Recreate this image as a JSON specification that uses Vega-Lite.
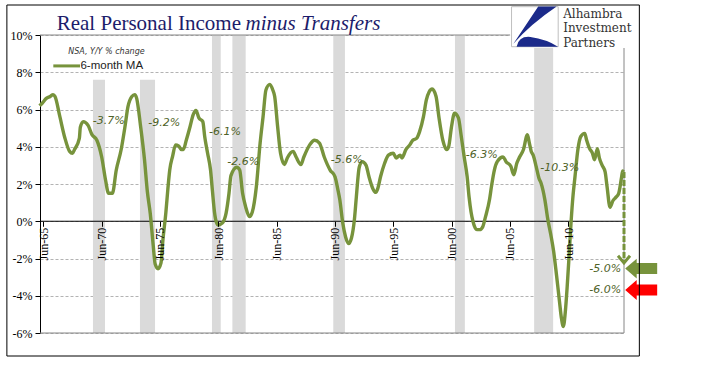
{
  "$schema": "https://vega.github.io/schema/vega-lite/v6.json",
  "width": 584,
  "height": 298,
  "autosize": {"type": "none"},
  "padding": {"left": 40, "top": 35, "right": 81, "bottom": 42},
  "background": "white",
  "config": {
    "view": {"stroke": null},
    "axis": {"labelFont": "Liberation Serif"}
  },
  "encoding": {
    "x": {
      "field": "date", "type": "temporal",
      "scale": {"domain": [{"year": 1965, "month": 2, "date": 15}, {"year": 2015, "month": 3, "date": 15}]},
      "axis": {
        "title": null, "orient": "bottom", "offset": -111.75, "domain": false,
        "values": [
          {"year": 1965, "month": 6, "date": 1}, {"year": 1970, "month": 6, "date": 1},
          {"year": 1975, "month": 6, "date": 1}, {"year": 1980, "month": 6, "date": 1},
          {"year": 1985, "month": 6, "date": 1}, {"year": 1990, "month": 6, "date": 1},
          {"year": 1995, "month": 6, "date": 1}, {"year": 2000, "month": 6, "date": 1},
          {"year": 2005, "month": 6, "date": 1}, {"year": 2010, "month": 6, "date": 1}
        ],
        "format": "%b-%y", "labelAngle": 270, "labelFontSize": 12, "labelColor": "black",
        "tickColor": "black", "tickSize": 5, "labelPadding": 1, "grid": false, "zindex": 1
      }
    },
    "y": {
      "field": "pct", "type": "quantitative",
      "scale": {"domain": [-6, 10]},
      "axis": {
        "title": null, "values": [-6, -4, -2, 0, 2, 4, 6, 8, 10],
        "labelExpr": "datum.value + '%'", "labelFontSize": 12, "labelColor": "black",
        "domainColor": "black", "tickColor": "black", "tickSize": 5, "labelPadding": 3,
        "grid": true, "gridColor": "#B3B3B3", "gridDash": [3, 2], "zindex": 0
      }
    }
  },
  "layer": [
    {
      "data": {"values": [
        {"date": "1969-09-01", "date2": "1970-09-12", "pct": 7.6, "pct2": -6},
        {"date": "1973-09-12", "date2": "1974-12-28", "pct": 7.6, "pct2": -6},
        {"date": "1979-11-15", "date2": "1980-08-15", "pct": 10, "pct2": -6},
        {"date": "1981-08-15", "date2": "1982-10-05", "pct": 10, "pct2": -6},
        {"date": "1990-04-10", "date2": "1991-04-10", "pct": 10, "pct2": -6},
        {"date": "2000-09-15", "date2": "2001-07-22", "pct": 10, "pct2": -6},
        {"date": "2007-07-01", "date2": "2009-02-15", "pct": 10, "pct2": -6}
      ], "format": {"parse": {"date": "date", "date2": "date"}}},
      "mark": {"type": "rect", "color": "#DADADA"},
      "encoding": {"x2": {"field": "date2"}, "y2": {"field": "pct2"}}
    },
    {
      "data": {"values": [
        {"date": "1965-02-15", "date2": "2015-03-15", "pct": 10},
        {"date": "1965-02-15", "date2": "2015-03-15", "pct": -6}
      ], "format": {"parse": {"date": "date", "date2": "date"}}},
      "mark": {"type": "rule", "color": "#868686", "strokeWidth": 1},
      "encoding": {"x2": {"field": "date2"}}
    },
    {
      "data": {"values": [
        {"date": "2015-03-15", "pct": -6, "pct2": 10}
      ], "format": {"parse": {"date": "date"}}},
      "mark": {"type": "rule", "color": "#868686", "strokeWidth": 1},
      "encoding": {"y2": {"field": "pct2"}}
    },
    {
      "data": {"values": [
        {"date": "1965-02-15", "date2": "2015-03-15", "pct": 0}
      ], "format": {"parse": {"date": "date", "date2": "date"}}},
      "mark": {"type": "rule", "color": "black", "strokeWidth": 1.2},
      "encoding": {"x2": {"field": "date2"}}
    },
    {
      "data": {"values": [
        {"date": "1965-02", "pct": 6.2}, {"date": "1965-05", "pct": 6.35}, {"date": "1965-09", "pct": 6.6},
        {"date": "1966-01", "pct": 6.7}, {"date": "1966-04", "pct": 6.8}, {"date": "1966-06", "pct": 6.7},
        {"date": "1966-11", "pct": 5.6}, {"date": "1967-04", "pct": 4.5}, {"date": "1967-09", "pct": 3.75},
        {"date": "1967-12", "pct": 3.65}, {"date": "1968-02", "pct": 3.85}, {"date": "1968-07", "pct": 4.45},
        {"date": "1968-08", "pct": 5.05}, {"date": "1968-11", "pct": 5.35}, {"date": "1969-04", "pct": 5.15},
        {"date": "1969-08", "pct": 4.65}, {"date": "1970-01", "pct": 4.35}, {"date": "1970-06", "pct": 3.45},
        {"date": "1970-10", "pct": 2.2}, {"date": "1971-01", "pct": 1.5}, {"date": "1971-05", "pct": 1.5},
        {"date": "1971-09", "pct": 2.75}, {"date": "1972-02", "pct": 3.85}, {"date": "1972-06", "pct": 5.1},
        {"date": "1972-09", "pct": 6.15}, {"date": "1973-01", "pct": 6.7}, {"date": "1973-04", "pct": 6.8},
        {"date": "1973-06", "pct": 6.6}, {"date": "1973-10", "pct": 5.1}, {"date": "1974-02", "pct": 3.3},
        {"date": "1974-05", "pct": 1.6}, {"date": "1974-08", "pct": 0.4}, {"date": "1974-11", "pct": -1.3},
        {"date": "1975-01", "pct": -2.3}, {"date": "1975-04", "pct": -2.55}, {"date": "1975-07", "pct": -2.25},
        {"date": "1975-09", "pct": -1.0}, {"date": "1975-12", "pct": 0.45}, {"date": "1976-02", "pct": 1.7},
        {"date": "1976-04", "pct": 2.75}, {"date": "1976-07", "pct": 3.5}, {"date": "1976-10", "pct": 4.1},
        {"date": "1977-01", "pct": 4.05}, {"date": "1977-04", "pct": 3.85}, {"date": "1977-06", "pct": 3.85},
        {"date": "1977-09", "pct": 4.35}, {"date": "1978-01", "pct": 5.1}, {"date": "1978-04", "pct": 5.7},
        {"date": "1978-07", "pct": 5.95}, {"date": "1978-10", "pct": 5.55}, {"date": "1979-02", "pct": 5.35},
        {"date": "1979-04", "pct": 4.55}, {"date": "1979-07", "pct": 3.65}, {"date": "1979-10", "pct": 2.75},
        {"date": "1979-12", "pct": 1.6}, {"date": "1980-02", "pct": 0.5}, {"date": "1980-04", "pct": -0.05},
        {"date": "1980-06", "pct": -0.2}, {"date": "1980-10", "pct": -0.1}, {"date": "1981-02", "pct": 0.45},
        {"date": "1981-05", "pct": 1.5}, {"date": "1981-07", "pct": 2.45}, {"date": "1982-01", "pct": 2.9},
        {"date": "1982-04", "pct": 2.75}, {"date": "1982-07", "pct": 1.5}, {"date": "1982-10", "pct": 0.8},
        {"date": "1983-02", "pct": 0.25}, {"date": "1983-05", "pct": 0.5}, {"date": "1983-09", "pct": 1.8},
        {"date": "1984-01", "pct": 4.2}, {"date": "1984-04", "pct": 5.6}, {"date": "1984-07", "pct": 7.05},
        {"date": "1984-11", "pct": 7.35}, {"date": "1985-02", "pct": 7.05}, {"date": "1985-04", "pct": 6.7},
        {"date": "1985-07", "pct": 5.1}, {"date": "1985-10", "pct": 3.65}, {"date": "1986-02", "pct": 3.05},
        {"date": "1986-05", "pct": 3.4}, {"date": "1986-11", "pct": 3.75}, {"date": "1987-02", "pct": 3.45},
        {"date": "1987-07", "pct": 3.05}, {"date": "1987-10", "pct": 3.45}, {"date": "1988-04", "pct": 4.1},
        {"date": "1988-09", "pct": 4.35}, {"date": "1989-02", "pct": 4.2}, {"date": "1989-07", "pct": 3.45},
        {"date": "1990-01", "pct": 2.75}, {"date": "1990-06", "pct": 2.4}, {"date": "1990-09", "pct": 1.7},
        {"date": "1990-11", "pct": 1.15}, {"date": "1991-02", "pct": -0.1}, {"date": "1991-05", "pct": -0.85},
        {"date": "1991-08", "pct": -1.2}, {"date": "1991-11", "pct": -0.9}, {"date": "1992-02", "pct": 0.1},
        {"date": "1992-04", "pct": 1.3}, {"date": "1992-07", "pct": 2.9}, {"date": "1992-10", "pct": 3.2},
        {"date": "1993-02", "pct": 3.0}, {"date": "1993-05", "pct": 2.4}, {"date": "1993-09", "pct": 1.75},
        {"date": "1993-12", "pct": 1.55}, {"date": "1994-02", "pct": 1.75}, {"date": "1994-05", "pct": 2.4},
        {"date": "1994-09", "pct": 3.1}, {"date": "1995-01", "pct": 3.55}, {"date": "1995-06", "pct": 3.65},
        {"date": "1995-09", "pct": 3.4}, {"date": "1996-01", "pct": 3.55}, {"date": "1996-03", "pct": 3.4},
        {"date": "1996-07", "pct": 3.85}, {"date": "1996-11", "pct": 4.1}, {"date": "1997-02", "pct": 4.35},
        {"date": "1997-06", "pct": 4.45}, {"date": "1997-09", "pct": 4.8}, {"date": "1998-01", "pct": 5.6},
        {"date": "1998-04", "pct": 6.5}, {"date": "1998-07", "pct": 6.95}, {"date": "1998-10", "pct": 7.1},
        {"date": "1999-02", "pct": 6.7}, {"date": "1999-05", "pct": 5.6}, {"date": "1999-09", "pct": 4.35},
        {"date": "2000-01", "pct": 3.85}, {"date": "2000-03", "pct": 4.0}, {"date": "2000-06", "pct": 5.1},
        {"date": "2000-09", "pct": 5.8}, {"date": "2001-01", "pct": 5.55}, {"date": "2001-04", "pct": 4.55},
        {"date": "2001-07", "pct": 3.45}, {"date": "2001-10", "pct": 2.4}, {"date": "2001-12", "pct": 1.3},
        {"date": "2002-02", "pct": 0.5}, {"date": "2002-04", "pct": 0.0}, {"date": "2002-08", "pct": -0.45},
        {"date": "2002-11", "pct": -0.45}, {"date": "2003-02", "pct": -0.3}, {"date": "2003-05", "pct": 0.25},
        {"date": "2003-09", "pct": 1.15}, {"date": "2003-11", "pct": 1.85}, {"date": "2004-02", "pct": 2.75},
        {"date": "2004-05", "pct": 3.2}, {"date": "2004-11", "pct": 3.45}, {"date": "2005-02", "pct": 3.2},
        {"date": "2005-07", "pct": 2.95}, {"date": "2005-10", "pct": 2.5}, {"date": "2006-01", "pct": 3.1},
        {"date": "2006-04", "pct": 3.45}, {"date": "2006-08", "pct": 3.85}, {"date": "2006-12", "pct": 4.65},
        {"date": "2007-02", "pct": 4.2}, {"date": "2007-04", "pct": 3.75}, {"date": "2007-06", "pct": 3.55},
        {"date": "2007-09", "pct": 2.95}, {"date": "2007-12", "pct": 2.3}, {"date": "2008-02", "pct": 2.05},
        {"date": "2008-06", "pct": 1.15}, {"date": "2008-09", "pct": 0.1}, {"date": "2008-12", "pct": -0.7},
        {"date": "2009-03", "pct": -1.6}, {"date": "2009-06", "pct": -2.9}, {"date": "2009-09", "pct": -4.3},
        {"date": "2009-11", "pct": -5.2}, {"date": "2010-01", "pct": -5.65}, {"date": "2010-03", "pct": -4.9},
        {"date": "2010-05", "pct": -3.5}, {"date": "2010-07", "pct": -1.8}, {"date": "2010-09", "pct": 0.0},
        {"date": "2010-11", "pct": 1.4}, {"date": "2011-01", "pct": 2.4}, {"date": "2011-04", "pct": 3.85},
        {"date": "2011-07", "pct": 4.55}, {"date": "2011-11", "pct": 4.72}, {"date": "2012-01", "pct": 4.35},
        {"date": "2012-04", "pct": 3.9}, {"date": "2012-07", "pct": 3.65}, {"date": "2012-09", "pct": 3.3},
        {"date": "2012-12", "pct": 3.9}, {"date": "2013-02", "pct": 3.4}, {"date": "2013-05", "pct": 3.0},
        {"date": "2013-08", "pct": 2.65}, {"date": "2013-10", "pct": 1.85}, {"date": "2014-01", "pct": 0.75},
        {"date": "2014-04", "pct": 1.1}, {"date": "2014-07", "pct": 1.28}, {"date": "2014-10", "pct": 1.5},
        {"date": "2015-01", "pct": 2.4}, {"date": "2015-02", "pct": 2.7}, {"date": "2015-03", "pct": 2.65}
      ], "format": {"parse": {"date": "date"}}},
      "mark": {"type": "line", "color": "#77933C", "strokeWidth": 3.4, "interpolate": "monotone"}
    },
    {
      "data": {"values": [{"date": "2015-03-15", "pct": 2.65, "pct2": -2.2}], "format": {"parse": {"date": "date"}}},
      "mark": {"type": "rule", "color": "#77933C", "strokeWidth": 3, "strokeDash": [6, 2]},
      "encoding": {"y2": {"field": "pct2"}}
    },
    {
      "data": {"values": [{"date": "2015-03-15", "pct": -2.05}], "format": {"parse": {"date": "date"}}},
      "mark": {"type": "point", "shape": "M-1,-0.6L0,0.6L1,-0.6", "filled": false, "size": 144, "strokeWidth": 3, "color": "#77933C", "opacity": 1}
    },
    {
      "data": {"values": [{"date": "2005-06-08", "date2": "2016-08-01", "pct": 9.3, "pct2": 11.5}], "format": {"parse": {"date": "date", "date2": "date"}}},
      "mark": {"type": "rect", "color": "white"},
      "encoding": {"x2": {"field": "date2"}, "y2": {"field": "pct2"}}
    },
    {
      "data": {"values": [{"date": "2005-07-23", "date2": "2009-07-23", "pct": 9.37, "pct2": 11.52}], "format": {"parse": {"date": "date", "date2": "date"}}},
      "mark": {"type": "rect", "fill": "white", "stroke": "#BFBFBF", "strokeWidth": 1},
      "encoding": {"x2": {"field": "date2"}, "y2": {"field": "pct2"}}
    },
    {
      "data": {"values": [{"date": "2007-07-28", "pct": 10.45}], "format": {"parse": {"date": "date"}}},
      "mark": {"type": "point", "shape": "M0.14,-0.87L0.94,-0.87Q-0.2,-0.1 -0.94,0.75ZM-0.8,0.87Q-0.7,0.4 -0.2,0.45Q0.5,0.55 1,0.87Z", "filled": true, "size": 2116, "color": "#1B2A8A", "opacity": 1, "strokeWidth": 0}
    },
    {
      "data": {"values": [
        {"date": "2009-12-25", "pct": 11.13, "text": "Alhambra"},
        {"date": "2009-12-25", "pct": 10.36, "text": "Investment"},
        {"date": "2009-12-25", "pct": 9.59, "text": "Partners"}
      ], "format": {"parse": {"date": "date"}}},
      "mark": {"type": "text", "align": "left", "baseline": "middle", "font": "DejaVu Serif", "fontSize": 12, "color": "#333333"},
      "encoding": {"text": {"field": "text"}}
    },
    {
      "data": {"values": [
        {"date": "1971-01-10", "pct": 5.4, "label": "-3.7%"},
        {"date": "1975-10-10", "pct": 5.29, "label": "-9.2%"},
        {"date": "1980-12-28", "pct": 4.81, "label": "-6.1%"},
        {"date": "1982-07-22", "pct": 3.16, "label": "-2.6%"},
        {"date": "1991-06-05", "pct": 3.29, "label": "-5.6%"},
        {"date": "2003-01-01", "pct": 3.56, "label": "-6.3%"},
        {"date": "2009-09-10", "pct": 2.88, "label": "-10.3%"}
      ], "format": {"parse": {"date": "date"}}},
      "mark": {"type": "text", "align": "center", "baseline": "middle", "font": "DejaVu Sans", "fontStyle": "italic", "fontSize": 11, "color": "#4F6228"},
      "encoding": {"text": {"field": "label"}}
    },
    {
      "data": {"values": [
        {"date": "2014-12-15", "pct": -2.54, "label": "-5.0%"},
        {"date": "2014-12-15", "pct": -3.69, "label": "-6.0%"}
      ], "format": {"parse": {"date": "date"}}},
      "mark": {"type": "text", "align": "right", "baseline": "middle", "font": "DejaVu Sans", "fontStyle": "italic", "fontSize": 11, "color": "#4F6228"},
      "encoding": {"text": {"field": "label"}}
    },
    {
      "data": {"values": [
        {"date": "2016-09-03", "pct": -2.54, "kind": "target"},
        {"date": "2016-09-03", "pct": -3.69, "kind": "prior"}
      ], "format": {"parse": {"date": "date"}}},
      "mark": {"type": "point", "shape": "M-1,0L-0.28,-0.62L-0.28,-0.34L1,-0.34L1,0.34L-0.28,0.34L-0.28,0.62Z", "filled": true, "size": 1024, "opacity": 1, "strokeWidth": 0},
      "encoding": {
        "color": {"field": "kind", "type": "nominal", "scale": {"domain": ["target", "prior"], "range": ["#77933C", "#FF0000"]}, "legend": null}
      }
    },
    {
      "data": {"values": [{"date": "1982-05-12", "pct": 10.27, "text": "Real Personal Income"}], "format": {"parse": {"date": "date"}}},
      "mark": {"type": "text", "align": "right", "baseline": "alphabetic", "font": "Liberation Serif", "fontSize": 21, "color": "#1C1C6B"},
      "encoding": {"text": {"field": "text"}}
    },
    {
      "data": {"values": [{"date": "1982-10-01", "pct": 10.27, "text": "minus Transfers"}], "format": {"parse": {"date": "date"}}},
      "mark": {"type": "text", "align": "left", "baseline": "alphabetic", "font": "Liberation Serif", "fontStyle": "italic", "fontSize": 21, "color": "#1C1C6B"},
      "encoding": {"text": {"field": "text"}}
    },
    {
      "data": {"values": [{"date": "1967-07-20", "pct": 9.1, "text": "NSA, Y/Y % change"}], "format": {"parse": {"date": "date"}}},
      "mark": {"type": "text", "align": "left", "baseline": "middle", "font": "DejaVu Sans", "fontStyle": "italic", "fontSize": 8, "color": "#333333"},
      "encoding": {"text": {"field": "text"}}
    },
    {
      "data": {"values": [{"date": "1966-04-08", "date2": "1968-07-22", "pct": 8.34}], "format": {"parse": {"date": "date", "date2": "date"}}},
      "mark": {"type": "rule", "color": "#77933C", "strokeWidth": 3},
      "encoding": {"x2": {"field": "date2"}}
    },
    {
      "data": {"values": [{"date": "1968-08-05", "pct": 8.34, "text": "6-month MA"}], "format": {"parse": {"date": "date"}}},
      "mark": {"type": "text", "align": "left", "baseline": "middle", "font": "Liberation Sans", "fontSize": 11.5, "color": "#222222"},
      "encoding": {"text": {"field": "text"}}
    },
    {
      "data": {"values": [{"date": "1962-04-15", "date2": "2016-07-08", "pct": -7.235, "pct2": 11.61}], "format": {"parse": {"date": "date", "date2": "date"}}},
      "mark": {"type": "rect", "fillOpacity": 0, "stroke": "black", "strokeWidth": 1},
      "encoding": {"x2": {"field": "date2"}, "y2": {"field": "pct2"}}
    }
  ]
}
